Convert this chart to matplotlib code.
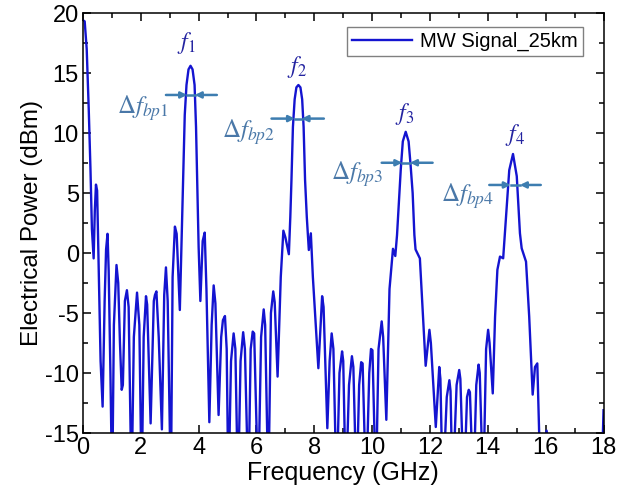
import matplotlib
matplotlib.use('Agg')
import matplotlib.pyplot as plt
from matplotlib.ticker import MultipleLocator

plt.rcParams['font.family'] = ['Liberation Sans', 'DejaVu Sans']
plt.rcParams['mathtext.fontset'] = 'stix'
plt.rcParams['axes.unicode_minus'] = False

# spectrum (GHz, dBm); values under -15 leave the axes
freq = [
    0.00, 0.06, 0.13, 0.20, 0.26, 0.31, 0.37, 0.41, 0.45, 0.49, 0.55, 0.61, 0.68,
    0.75, 0.80, 0.85, 0.89, 0.95, 1.01, 1.07, 1.16, 1.22, 1.28, 1.34, 1.38, 1.45,
    1.52, 1.58, 1.68, 1.76, 1.87, 1.95, 2.03, 2.10, 2.18, 2.22, 2.34, 2.45, 2.49,
    2.54, 2.62, 2.73, 2.81, 2.87, 2.93, 3.04, 3.10, 3.18, 3.24, 3.35,
    3.42, 3.48, 3.52, 3.58, 3.65, 3.72, 3.79, 3.86, 3.91, 3.95, 4.00, 4.06,
    4.14, 4.21, 4.27, 4.37, 4.45, 4.52, 4.58, 4.69, 4.78, 4.84, 4.91, 4.97, 5.03,
    5.12, 5.21, 5.27, 5.36, 5.45, 5.54, 5.60, 5.72, 5.80, 5.87, 5.92, 6.06, 6.16,
    6.25, 6.30, 6.41, 6.50, 6.58, 6.63, 6.73, 6.84, 6.93, 7.00, 7.12,
    7.17, 7.21, 7.26, 7.32, 7.38, 7.45, 7.52, 7.58, 7.63, 7.68, 7.74, 7.81, 7.88,
    7.95, 8.14, 8.27, 8.32, 8.45, 8.53, 8.60, 8.66, 8.77, 8.87, 8.96, 9.00, 9.09,
    9.20, 9.30, 9.35, 9.46, 9.55, 9.62, 9.67, 9.79, 9.90, 9.96, 10.01, 10.13, 10.22,
    10.33, 10.38, 10.49, 10.60, 10.72, 10.80,
    10.86, 10.92, 10.99, 11.06, 11.16, 11.26, 11.33, 11.40, 11.46, 11.50, 11.65,
    11.85, 11.98, 12.03, 12.20, 12.32, 12.36, 12.44, 12.58, 12.67, 12.71, 12.78,
    12.92, 13.01, 13.05, 13.17, 13.28, 13.34, 13.38, 13.50, 13.60, 13.68, 13.72,
    13.84, 13.94, 14.01, 14.06, 14.17, 14.25, 14.33, 14.42, 14.53, 14.63, 14.74,
    14.87, 15.00, 15.11, 15.17, 15.32, 15.43, 15.55, 15.63, 15.71, 15.83, 15.98,
    16.03, 16.08, 16.20, 17.90, 18.00,
]
power = [
    19.4, 19.3, 17.0, 12.0, 7.0, 2.0, -0.45, 3.5, 5.7, 5.2, -2.0, -9.0, -12.8,
    -4.0, 0.3, 1.6, -1.5, -10.0, -20.0, -6.0, -1.0, -2.5, -7.5, -11.4, -11.0, -4.0,
    -3.1, -4.5, -20.0, -7.0, -3.3, -6.0, -20.0, -7.0, -3.6, -4.3, -14.2, -4.0, -3.5,
    -3.2, -7.0, -14.7, -3.5, -1.2, -4.0, -20.0, -2.0, 2.2, 1.6, -4.75,
    2.0, 8.0, 11.5, 14.0, 15.3, 15.6, 15.3, 14.0, 10.5, 6.0, 0.5, -4.0,
    1.0, 1.7, -3.0, -14.1, -6.0, -2.7, -4.2, -13.5, -7.0, -5.6, -5.25, -8.0, -20.0,
    -9.0, -6.7, -8.0, -20.0, -9.0, -6.6, -8.0, -20.0, -8.0, -6.55, -6.7, -20.0, -7.0,
    -4.7, -6.0, -20.0, -5.0, -3.2, -4.1, -10.3, -2.0, 1.86, 1.3, -0.1,
    3.0, 6.1, 10.5, 12.8, 13.8, 14.0, 13.8, 12.8, 10.5, 6.1, 3.0, 0.25, 1.64,
    -2.0, -9.6, -3.6, -4.5, -14.6, -9.0, -6.7, -8.0, -20.0, -10.0, -8.2, -9.0, -20.0,
    -11.0, -8.6, -9.5, -20.0, -11.0, -9.1, -9.2, -20.0, -10.0, -8.0, -8.1, -20.0, -8.0,
    -5.7, -7.0, -13.9, -3.0, 0.35, -0.25,
    1.5, 4.0, 7.0, 9.3, 10.1, 9.3, 7.3, 5.0, 1.5, 0.3, -0.45,
    -9.4, -6.4, -7.5, -14.5, -9.5, -10.5, -20.0, -12.0, -10.6, -11.5, -20.0,
    -11.0, -9.75, -10.5, -20.0, -12.0, -11.4, -11.6, -20.0, -11.0, -9.3, -10.0,
    -20.0, -8.0, -6.4, -7.5, -11.7, -5.3, -1.4, -0.3, -0.44, 3.0, 6.9,
    8.25, 6.4, 1.64, 0.39, -0.72, -5.3, -11.8, -9.5, -9.2, -20.0, -15.5,
    -14.8, -15.5, -22.0, -22.0, -13.1,
]

# peak labels and width markers
peak_names = ['$\\mathit{f}_{\\mathit{1}}$', '$\\mathit{f}_{\\mathit{2}}$',
              '$\\mathit{f}_{\\mathit{3}}$', '$\\mathit{f}_{\\mathit{4}}$']
peak_label_x = [3.56, 7.39, 11.13, 14.94]
peak_label_y = [17.5, 15.5, 11.6, 9.8]
bw_names = ['$\\Delta \\mathit{f}_{\\mathit{bp1}}$', '$\\Delta \\mathit{f}_{\\mathit{bp2}}$',
            '$\\Delta \\mathit{f}_{\\mathit{bp3}}$', '$\\Delta \\mathit{f}_{\\mathit{bp4}}$']
bw_label_x = [2.07, 5.74, 9.47, 13.28]
bw_label_y = [12.1, 10.1, 6.6, 4.75]
arrow_level = [13.17, 11.2, 7.52, 5.67]
arrow_outer = [(2.87, 4.63), (6.52, 8.33), (10.33, 12.09), (14.05, 15.83)]
arrow_inner = [(3.60, 3.87), (7.33, 7.56), (11.04, 11.31), (14.79, 15.11)]

fig = plt.figure(figsize=(6.19, 5.0), dpi=100)
ax = fig.add_axes([0.134, 0.134, 0.841, 0.840])

ax.plot(freq, power, color='#1414d0', lw=1.7, label='MW Signal_25km')

arrow_col = '#3d7db0'
for lvl, (lo, hi), (ti, to) in zip(arrow_level, arrow_outer, arrow_inner):
    ax.plot([ti, to], [lvl, lvl], color=arrow_col, lw=1.8)
    for start, tip in ((lo, ti), (hi, to)):
        ax.annotate('', xy=(tip, lvl), xytext=(start, lvl),
                    arrowprops=dict(arrowstyle='-|>', color=arrow_col, lw=1.8,
                                    mutation_scale=9, shrinkA=0, shrinkB=0))

for name, x, y in zip(peak_names, peak_label_x, peak_label_y):
    ax.text(x, y, name, color='#2323a0', fontsize=17, ha='center', va='center')
for name, x, y in zip(bw_names, bw_label_x, bw_label_y):
    ax.text(x, y, name, color='#4a78a8', fontsize=18, ha='center', va='center')

ax.set_xlim(0, 18)
ax.set_ylim(-15, 20)
ax.xaxis.set_major_locator(MultipleLocator(2))
ax.xaxis.set_minor_locator(MultipleLocator(1))
ax.yaxis.set_major_locator(MultipleLocator(5))
ax.yaxis.set_minor_locator(MultipleLocator(2.5))
ax.tick_params(which='both', direction='in', top=True, right=True, width=1.1)
ax.tick_params(which='major', length=6, labelsize=17, pad=3)
ax.tick_params(which='minor', length=3.5)
for sp in ax.spines.values():
    sp.set_linewidth(1.1)

ax.set_xlabel('Frequency (GHz)', fontsize=18, labelpad=1)
ax.set_ylabel('Electrical Power (dBm)', fontsize=17.5, labelpad=1)

leg = ax.legend(loc='upper right', bbox_to_anchor=(0.961, 0.967), borderaxespad=0,
                fontsize=14.5, fancybox=False, framealpha=1, handlelength=3.0,
                borderpad=0.25, handletextpad=0.4)
leg.get_frame().set_edgecolor('#808080')
leg.get_frame().set_linewidth(1.0)

fig.savefig('out.png', dpi=100)
